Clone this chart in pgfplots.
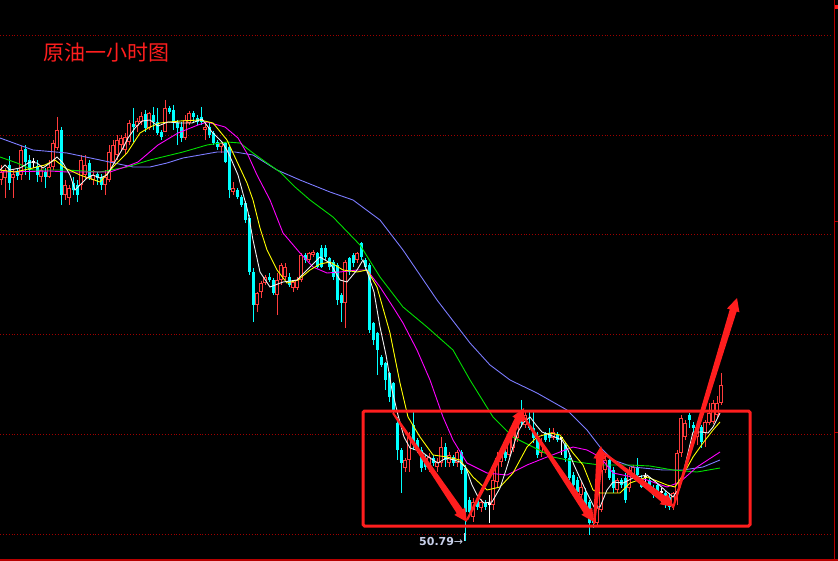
\documentclass[border=0pt]{standalone}
\usepackage{fontspec}
\usepackage{pgfplots}
\usepackage{pgfplotstable}
\pgfplotsset{compat=1.18}
\usetikzlibrary{calc}
\newfontfamily\cjk{Noto Sans CJK SC}
\newfontfamily\dejavu{DejaVu Sans}
\definecolor{upred}{HTML}{FF3C3C}
\definecolor{dncyan}{HTML}{00FFFF}
\definecolor{annored}{HTML}{FF1E1E}
\definecolor{gridred}{HTML}{A00000}
\definecolor{edgered}{HTML}{B80000}
\definecolor{lbl}{HTML}{C8D0EA}
\definecolor{ma5}{HTML}{F0F0F0}
\definecolor{ma10}{HTML}{FFFF00}
\definecolor{ma20}{HTML}{FF00FF}
\definecolor{ma40}{HTML}{00E000}
\definecolor{ma60}{HTML}{7C7CFF}

% one-hour bars, in screen units (y grows downwards): x open high low close
\pgfplotstableread{
x o h l c
1 180 165 185 172
5 178 168 198 170
9 165 156 190 183
13 178 170 198 174
17 172 168 180 176
21 175 146 180 150
25 149 145 175 162
29 160 155 180 170
33 162 158 168 162
37 166 160 182 175
41 177 165 182 170
45 172 168 188 177
49 177 160 178 167
53 167 140 170 143
57 148 117 150 130
61 130 127 205 195
65 195 180 200 185
69 198 185 205 188
73 183 177 195 190
77 185 180 202 195
81 185 155 190 160
85 175 155 180 165
89 163 160 180 178
93 180 170 185 175
97 174 172 185 178
101 177 174 190 185
105 185 170 195 177
109 180 145 182 152
113 162 140 165 145
117 155 135 160 140
121 145 135 150 138
125 150 133 155 137
129 142 120 145 123
133 124 108 142 127
137 126 118 132 121
141 122 112 125 116
145 114 110 132 128
149 128 112 130 113
153 115 107 130 122
157 122 108 135 133
161 132 130 140 137
165 132 100 132 108
169 108 106 114 112
173 110 105 130 122
177 123 120 145 128
181 127 122 142 138
185 138 115 140 120
189 123 111 125 113
193 113 111 122 117
197 118 115 125 122
201 117 107 125 122
205 130 123 140 127
209 127 123 138 135
213 133 131 145 143
217 142 140 150 147
221 147 141 153 143
225 143 142 163 162
229 147 145 198 190
233 192 182 195 188
237 190 188 199 197
241 197 195 207 205
245 203 201 223 220
249 218 215 275 272
253 272 268 322 305
257 305 292 312 293
261 292 281 298 283
265 283 275 285 277
269 277 273 282 280
273 280 278 295 293
277 295 273 315 280
281 280 263 285 265
285 277 263 280 267
289 277 273 287 285
293 288 280 292 282
297 288 277 290 280
301 280 253 282 255
305 255 253 263 260
309 260 252 262 253
313 255 250 257 252
317 253 252 268 267
321 248 245 268 267
325 248 245 260 257
329 258 257 270 267
333 262 260 280 277
337 265 263 305 300
341 295 293 322 303
345 303 260 328 262
349 258 257 275 272
353 255 253 267 263
357 260 252 263 253
361 243 242 260 257
365 260 258 270 267
369 265 263 333 330
373 323 322 345 340
377 333 332 375 350
381 357 355 367 365
385 363 362 390 380
389 373 372 402 397
393 383 382 413 410
397 423 417 460 450
401 450 448 493 463
405 468 458 472 460
409 460 432 472 437
413 425 412 450 445
417 440 438 453 450
421 450 447 472 468
425 458 455 470 467
429 465 453 472 457
433 458 455 466 463
437 467 458 472 462
441 463 437 467 447
445 447 443 467 460
449 463 452 467 455
453 457 455 466 463
457 463 450 467 452
461 452 450 474 470
465 468 465 541 512
469 500 497 515 512
473 517 498 522 502
477 500 498 510 507
481 508 499 512 502
485 503 500 510 507
489 504 495 523 504
493 505 465 510 480
497 482 452 488 458
501 462 448 467 453
505 452 442 461 458
509 455 432 457 435
513 448 425 452 428
517 438 415 442 422
521 413 400 427 423
525 425 412 428 415
529 425 410 430 428
533 428 412 443 438
537 438 432 458 455
541 453 438 457 442
545 433 432 442 440
549 433 428 442 438
553 438 428 440 432
557 435 432 442 440
561 438 437 455 438
565 445 442 462 458
569 458 455 480 478
573 475 472 488 485
577 480 477 495 492
581 495 482 498 487
585 492 488 507 505
589 502 500 535 523
593 520 518 528 523
597 523 505 525 508
601 510 467 512 470
605 470 455 473 460
609 460 457 480 478
613 470 467 493 488
617 490 478 493 480
621 480 478 488 485
625 478 473 503 500
629 488 467 492 470
633 475 465 477 467
637 467 458 478 475
641 478 475 488 487
645 477 473 485 477
649 480 478 490 487
653 488 485 498 495
657 485 483 494 492
661 492 488 502 492
665 493 491 508 502
669 497 493 510 507
673 505 492 510 493
677 493 450 505 453
681 453 415 457 418
685 437 420 440 423
689 415 413 428 420
693 425 422 432 428
697 437 423 445 427
701 427 425 448 442
705 433 420 447 422
709 423 403 425 413
713 422 400 424 403
717 415 396 418 403
721 403 373 405 385
}\candles

\pgfplotsset{
  cndl/.style 2 args={mark=none, draw=none, forget plot,
    error bars/y dir=plus, error bars/y explicit, error bars/error mark=none,
    error bars/error bar style={draw=#1, line width=#2}},
  ma/.style={#1, line width=0.9bp, mark=none, forget plot},
}

% tapered hand-drawn style arrow, from #1 to #2 (axis units)
\newcommand\taparrow[2]{%
  \coordinate (tA) at (axis cs:#1);
  \coordinate (tB) at (axis cs:#2);
  \coordinate (tH) at ($(tB)!13bp!(tA)$);
  \fill[annored] ($(tA)!1bp!90:(tB)$) -- ($(tH)!3.6bp!90:(tB)$) -- ($(tH)!6.5bp!90:(tB)$)
    -- (tB) -- ($(tH)!6.5bp!-90:(tB)$) -- ($(tH)!3.6bp!-90:(tB)$) -- ($(tA)!1bp!-90:(tB)$) -- cycle;
}

\begin{document}
\begin{tikzpicture}
\fill[black] (0,0) rectangle (838bp,561bp);
\begin{axis}[
  at={(0,0)}, anchor=south west,
  scale only axis,
  width=838bp, height=561bp,
  xmin=0, xmax=838, ymin=0, ymax=561,
  y dir=reverse,
  hide axis,
  restrict x to domain=0:838,
]
% dotted price levels
\foreach \yy in {35,135,234,334,434,534}{
  \edef\tmp{\noexpand\addplot[gridred, dotted, line width=0.9bp, forget plot] coordinates {(0,\yy) (833,\yy)};}
  \tmp
}
\addplot[edgered, line width=1bp, forget plot] coordinates {(834,0) (834,561)};
\addplot[edgered, line width=1.2bp, forget plot] coordinates {(0,560) (838,560)};
\addplot[edgered, line width=1bp, forget plot] coordinates {(834,221) (838,221)};
\addplot[edgered, line width=1bp, forget plot] coordinates {(834,432) (838,432)};
\addplot[annored, line width=4bp, forget plot] coordinates {(835,7.5) (838,7.5)};

% falling bars (cyan, filled)
\addplot[cndl={dncyan}{0.9bp}] table[x expr={ifthenelse(\thisrow{o}<\thisrow{c},\thisrow{x},-50)}, y=h, y error plus expr={\thisrow{l}-\thisrow{h}}] {\candles};
\addplot[cndl={dncyan}{3bp}] table[x expr={ifthenelse(\thisrow{o}<\thisrow{c},\thisrow{x},-50)}, y=o, y error plus expr={\thisrow{c}-\thisrow{o}}] {\candles};
% rising bars (red, hollow)
\addplot[cndl={upred}{0.9bp}] table[x expr={ifthenelse(\thisrow{o}>\thisrow{c},\thisrow{x},-50)}, y=h, y error plus expr={\thisrow{l}-\thisrow{h}}] {\candles};
\addplot[cndl={upred}{3.2bp}] table[x expr={ifthenelse(\thisrow{o}>\thisrow{c},\thisrow{x},-50)}, y=c, y error plus expr={\thisrow{o}-\thisrow{c}}] {\candles};
\addplot[cndl={black}{1.1bp}] table[x expr={ifthenelse(\thisrow{o}>\thisrow{c},\thisrow{x},-50)}, y expr={\thisrow{c}+0.9}, y error plus expr={max(\thisrow{o}-\thisrow{c}-1.8,0)}] {\candles};
% unchanged bars (white)
\addplot[cndl={white}{0.9bp}] table[x expr={ifthenelse(\thisrow{o}==\thisrow{c},\thisrow{x},-50)}, y=h, y error plus expr={\thisrow{l}-\thisrow{h}}] {\candles};
\addplot[cndl={white}{3bp}] table[x expr={ifthenelse(\thisrow{o}==\thisrow{c},\thisrow{x},-50)}, y expr={\thisrow{o}-0.6}, y error plus expr={1.2}] {\candles};

% moving averages
\addplot[ma=ma60] coordinates {(0,138) (33,150) (67,153) (100,160) (133,167) (150,167) (167,163) (183,158) (200,155) (217,152) (235,152) (253,155) (277,170) (300,180) (330,192) (353,200) (380,220) (403,250) (437,300) (470,343) (490,365) (510,380) (537,393) (567,410) (587,430) (600,447) (613,460) (633,467) (663,470) (683,470) (703,467) (720,460)};
\addplot[ma=ma40] coordinates {(0,157) (17,163) (33,170) (67,170) (100,172) (127,167) (150,160) (183,152) (207,145) (227,142) (240,143) (253,153) (267,163) (280,172) (295,187) (310,200) (333,217) (360,245) (380,277) (403,307) (427,327) (453,350) (470,380) (493,417) (513,437) (533,447) (553,457) (577,462) (600,465) (630,465) (650,466) (673,470) (697,472) (720,468)};
\addplot[ma=ma20] coordinates {(0,172) (50,171) (67,172) (110,172) (125,167) (138,162) (158,145) (178,133) (198,125) (207,122) (225,127) (238,138) (248,155) (257,175) (270,200) (283,233) (300,253) (313,267) (327,273) (340,272) (357,270) (367,270) (380,287) (393,307) (403,323) (417,350) (430,380) (443,417) (453,440) (467,463) (487,473) (507,475) (527,465) (547,457) (560,452) (573,447) (587,450) (600,457) (613,473) (647,480) (667,487) (680,482) (697,467) (720,452)};
\addplot[ma=ma10] coordinates {(0,170) (15,172) (33,168) (45,165) (55,160) (65,168) (80,175) (100,182) (113,167) (127,153) (140,133) (150,127) (160,123) (180,121) (200,120) (213,123) (227,140) (233,153) (247,183) (253,200) (260,228) (267,250) (277,270) (287,283) (298,280) (310,270) (320,264) (330,262) (343,270) (357,272) (367,270) (377,287) (390,333) (400,383) (408,417) (420,437) (433,455) (447,457) (460,460) (473,477) (487,490) (500,487) (513,473) (527,447) (537,437) (550,433) (560,435) (573,453) (583,465) (593,490) (600,493) (620,493) (630,483) (647,477) (667,485) (675,487) (683,475) (693,457) (703,443) (713,430) (720,422)};
\addplot[ma=ma5] coordinates {(0,170) (5,165) (10,170) (20,168) (30,162) (37,163) (43,168) (50,163) (57,157) (63,163) (70,175) (75,190) (80,185) (87,178) (93,175) (100,178) (107,175) (113,165) (123,148) (128,138) (135,128) (142,121) (150,120) (158,126) (168,122) (180,123) (192,123) (202,119) (212,132) (222,142) (228,152) (238,175) (248,212) (253,240) (260,272) (270,287) (283,282) (297,280) (310,267) (320,257) (330,263) (340,280) (347,282) (357,270) (363,260) (370,280) (374,292) (380,327) (386,355) (392,390) (398,415) (404,437) (410,448) (416,450) (422,452) (430,458) (438,463) (446,458) (454,460) (460,462) (466,468) (472,485) (478,497) (484,503) (492,502) (500,488) (506,470) (513,447) (518,432) (523,423) (530,417) (536,425) (542,432) (550,435) (562,440) (568,450) (574,465) (580,478) (587,493) (594,507) (600,507) (607,490) (613,482) (623,483) (633,478) (647,475) (657,483) (667,492) (673,497) (680,487) (687,457) (693,432) (702,432) (708,433) (713,427) (720,413)};

% annotations
\draw[annored, line width=3bp, rounded corners=1.5bp] (axis cs:363,411) rectangle (axis cs:750,526);
\taparrow{393,413}{467,522}
\taparrow{467,520}{524,408}
\taparrow{521,413}{594,522}
\taparrow{594,524}{601,446}
\taparrow{601,451}{674,507}
\taparrow{673,508}{737,298}
\node[anchor=west, inner sep=0pt, text=annored, font=\cjk\fontsize{21bp}{21bp}\selectfont] at (axis cs:43,53) {原油一小时图};
\node[anchor=west, inner sep=0pt, text=lbl, font=\dejavu\fontsize{11bp}{11bp}\selectfont] at (axis cs:419,541) {\textbf{50.79}→};
\draw[lbl, line width=0.8bp] (axis cs:464,541) -- (axis cs:464,533);
\end{axis}
\end{tikzpicture}
\end{document}
